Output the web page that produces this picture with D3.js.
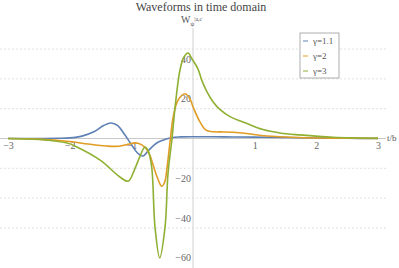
<!DOCTYPE html>
<html>
<head>
<meta charset="utf-8">
<script src="https://cdn.jsdelivr.net/npm/d3@7"></script>
<style>
  body { margin: 0; background: #fff; }
  svg { display: block; }
  .tick text { font-family: "Liberation Serif", serif; font-size: 10px; fill: #666; }
</style>
</head>
<body>
<div id="chart"></div>
<script>
// t values (t/b) and waveform values
const blueT   = [-3, -2.5, -2.2, -2.0, -1.8, -1.6, -1.45, -1.33, -1.22, -1.12, -1.0, -0.9, -0.81, -0.72, -0.6, -0.5, -0.35, -0.2, 0, 0.5, 1.0, 1.5, 2.0, 2.5, 3]
const blueW   = [0, 0, 0.1, 0.3, 1.2, 3.5, 6.5, 7.8, 6.5, 2.5, -3, -7.3, -8.8, -6, -2.5, -1, 0.4, 0.8, 0.9, 0.8, 0.7, 0.5, 0.25, 0.1, 0.05]

const orangeT = [-3, -2.5, -2.0, -1.7, -1.4, -1.2, -1.05, -0.93, -0.83, -0.75, -0.7, -0.62, -0.58, -0.51, -0.46, -0.42, -0.37, -0.32, -0.24, -0.13, -0.05, 0, 0.11, 0.2, 0.28, 0.5, 0.7, 0.9, 1.1, 1.4, 1.8, 2.2, 3]
const orangeW = [0, -0.3, -1.5, -2.8, -3.8, -3.9, -2.9, -2.2, -3.2, -5.5, -8.3, -16, -19.5, -24, -22, -14.4, -1, 11, 19.4, 22.5, 20, 16, 8.5, 4.5, 3.5, 3.3, 3.0, 2.4, 1.5, 0.9, 0.4, 0.2, 0.05]

const greenT  = [-3, -2.5, -2.04, -1.9, -1.5, -1.18, -1.05, -0.94, -0.86, -0.78, -0.73, -0.67, -0.616, -0.54, -0.454, -0.405, -0.34, -0.29, -0.21, -0.146, -0.08, -0.016, 0.08, 0.146, 0.227, 0.324, 0.44, 0.6, 0.876, 1.135, 1.41, 1.73, 2.27, 3]
const greenW  = [0, -0.5, -2.3, -4, -11, -19.5, -21.5, -15, -9, -4.3, -6, -14.4, -44.7, -60, -44.7, -17.5, 0, 16, 34.6, 41, 43, 40, 35, 29, 23.5, 18.5, 14.5, 11, 7.5, 4.5, 2.8, 1.8, 0.6, 0.1]

const seriesNames  = ["γ=1.1", "γ=2", "γ=3"]
const seriesColors = ["#5E81B5", "#E19C24", "#8FB032"]
const xTicks = [-3, -2, -1, 1, 2, 3]
const yTicks = [-60, -40, -20, 20, 40]
const gridValues = [-45, -30, -15, 15, 30, 45]

const width = 399
const height = 268

const svg = d3.select("#chart").append("svg")
  .attr("width", width)
  .attr("height", height)

const x = d3.scaleLinear().domain([-3, 3]).range([8, 378])
const y = d3.scaleLinear().domain([0, 40]).range([138.5, 59])

const minus = d => d < 0 ? "\u2212" + (-d) : "" + d

// horizontal grid
svg.append("g").selectAll("line").data(gridValues).enter().append("line")
  .attr("x1", 0)
  .attr("x2", 386)
  .attr("y1", d => y(d))
  .attr("y2", d => y(d))
  .attr("stroke", "#d8d8d8")
  .attr("stroke-width", 0.8)
  .attr("stroke-dasharray", "2,2")

// axis lines
svg.append("line")
  .attr("x1", 0).attr("x2", 386)
  .attr("y1", y(0)).attr("y2", y(0))
  .attr("stroke", "#c8c8c8")
svg.append("line")
  .attr("x1", x(0)).attr("x2", x(0))
  .attr("y1", 28).attr("y2", height)
  .attr("stroke", "#d0d0d0")

const xAxis = svg.append("g")
  .attr("transform", `translate(0,${y(0)})`)
  .call(d3.axisBottom(x).tickValues(xTicks).tickSize(0).tickPadding(3).tickFormat(minus))
xAxis.select(".domain").remove()

const yAxis = svg.append("g")
  .attr("transform", `translate(${x(0) - 1},0)`)
  .call(d3.axisLeft(y).tickValues(yTicks).tickSize(0).tickPadding(1).tickFormat(minus))
yAxis.select(".domain").remove()

// curves
const line = d3.line()
  .x(d => x(d[0]))
  .y(d => y(d[1]))
  .curve(d3.curveCatmullRom.alpha(0.5))

const series = [
  d3.zip(blueT, blueW),
  d3.zip(orangeT, orangeW),
  d3.zip(greenT, greenW)
]

series.forEach((pts, i) => {
  svg.append("path")
    .datum(pts)
    .attr("d", line)
    .attr("fill", "none")
    .attr("stroke", seriesColors[i])
    .attr("stroke-width", 1.6)
})

// title and axis labels
svg.append("text")
  .attr("x", 201)
  .attr("y", 11)
  .attr("text-anchor", "middle")
  .attr("font-family", "Liberation Serif, serif")
  .attr("font-size", 12)
  .attr("fill", "#444")
  .text("Waveforms in time domain")

const yLabel = svg.append("text")
  .attr("x", 181)
  .attr("y", 23)
  .attr("font-family", "Liberation Serif, serif")
  .attr("font-size", 10)
  .attr("fill", "#555")
yLabel.append("tspan").text("W")
yLabel.append("tspan").attr("font-size", 6).attr("dy", 3).text("ψ")
yLabel.append("tspan").attr("font-size", 6).attr("dy", -5).text("|a,c")

svg.append("text")
  .attr("x", 387)
  .attr("y", 141)
  .attr("font-family", "Liberation Serif, serif")
  .attr("font-size", 9)
  .attr("fill", "#555")
  .text("t/b")

// legend
const legend = svg.append("g").attr("transform", "translate(300,33)")
legend.append("rect")
  .attr("width", 39)
  .attr("height", 45)
  .attr("fill", "#fff")
  .attr("stroke", "#999")
  .attr("stroke-width", 0.8)

const legendRow = legend.selectAll(".row").data(seriesNames).enter().append("g")
  .attr("transform", (d, i) => `translate(0,${8 + i * 15})`)
legendRow.append("line")
  .attr("x1", 3).attr("x2", 8)
  .attr("stroke", (d, i) => seriesColors[i])
  .attr("stroke-width", 1)
legendRow.append("text")
  .attr("x", 13)
  .attr("y", 3)
  .attr("font-family", "Liberation Serif, serif")
  .attr("font-size", 9)
  .attr("fill", "#555")
  .text(d => d)
</script>
</body>
</html>
